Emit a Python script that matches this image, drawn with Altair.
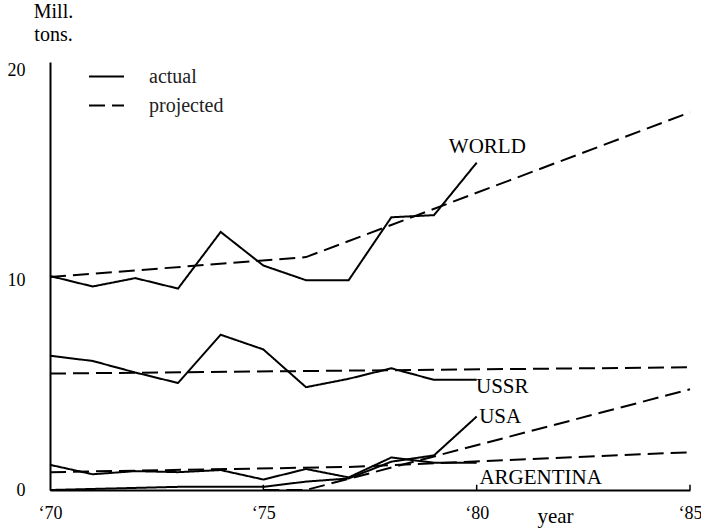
import altair as alt
import pandas as pd

# Actual production, million tons, 1970-1980
years = [1970, 1971, 1972, 1973, 1974, 1975, 1976, 1977, 1978, 1979, 1980]
world_actual = [10.2, 9.7, 10.1, 9.6, 12.3, 10.7, 10.0, 10.0, 13.0, 13.1, 15.6]
ussr_actual = [6.4, 6.15, 5.6, 5.1, 7.4, 6.7, 4.9, 5.3, 5.8, 5.25, 5.25]
usa_actual = [0.0, 0.05, 0.1, 0.15, 0.15, 0.15, 0.4, 0.55, 1.35, 1.65, 3.5]
argentina_actual = [1.2, 0.75, 0.9, 0.85, 0.95, 0.5, 1.0, 0.6, 1.55, 1.3, 1.3]

# Projected trends
world_proj_years = [1970, 1976, 1985]
world_proj = [10.15, 11.1, 18.0]
ussr_proj_years = [1970, 1985]
ussr_proj = [5.55, 5.85]
usa_proj_years = [1975, 1976, 1985]
usa_proj = [0.0, 0.0, 4.8]
argentina_proj_years = [1970, 1977, 1985]
argentina_proj = [0.85, 1.1, 1.8]

# Series names placed beside the lines
region_names = ["WORLD", "USSR", "USA", "ARGENTINA"]
name_year = [1980.25, 1980.6, 1980.55, 1981.5]
name_value = [16.35, 4.9, 3.5, 0.57]

# Year marks on the time axis
axis_years = [1970, 1975, 1980, 1985]
tick_years = [1975, 1980, 1985]

FONT = "Liberation Serif"

rows = []
for name, xs, ys, kind in [
    ("WORLD", years, world_actual, "actual"),
    ("USSR", years, ussr_actual, "actual"),
    ("USA", years, usa_actual, "actual"),
    ("ARGENTINA", years, argentina_actual, "actual"),
    ("WORLD", world_proj_years, world_proj, "projected"),
    ("USSR", ussr_proj_years, ussr_proj, "projected"),
    ("USA", usa_proj_years, usa_proj, "projected"),
    ("ARGENTINA", argentina_proj_years, argentina_proj, "projected"),
]:
    for x, y in zip(xs, ys):
        rows.append({"region": name, "kind": kind, "year": x, "value": y})
lines_df = pd.DataFrame(rows)

names_df = pd.DataFrame({"name": region_names, "year": name_year, "value": name_value})
ticks_df = pd.DataFrame({"year": tick_years, "y0": [0.0] * 3, "y1": [0.25] * 3})

x_scale = alt.Scale(domain=[1970, 1985], nice=False, zero=False)
y_scale = alt.Scale(domain=[0, 20.4], nice=False)

lines = alt.Chart(lines_df).mark_line(color="black", strokeWidth=2).encode(
    x=alt.X(
        "year:Q",
        scale=x_scale,
        axis=alt.Axis(
            values=axis_years,
            labelExpr="'\u2018' + substring(toString(datum.value), 2)",
            title="year",
            titleX=505,
            titleY=26,
            titleBaseline="middle",
            titleFont=FONT,
            titleFontSize=21,
            titleFontWeight="normal",
            titleColor="black",
            labelFont=FONT,
            labelFontSize=18,
            labelColor="black",
            labelPadding=14,
            labelFlush=False,
            ticks=False,
            grid=False,
            domainColor="black",
            domainWidth=2,
        ),
    ),
    y=alt.Y(
        "value:Q",
        scale=y_scale,
        axis=alt.Axis(
            values=[0, 10, 20],
            title=["Mill.", "tons."],
            titleAngle=0,
            titleAlign="center",
            titleBaseline="top",
            titleX=3,
            titleY=-61,
            titleFont=FONT,
            titleFontSize=20,
            titleFontWeight="normal",
            titleLineHeight=23,
            titleColor="black",
            labelFont=FONT,
            labelFontSize=18,
            labelColor="black",
            labelPadding=25,
            ticks=False,
            grid=False,
            domainColor="black",
            domainWidth=2,
        ),
    ),
    detail="region:N",
    strokeDash=alt.StrokeDash(
        "kind:N",
        scale=alt.Scale(domain=["actual", "projected"], range=[[1, 0], [16, 7]]),
        legend=alt.Legend(
            orient="none",
            legendX=38,
            legendY=-4,
            title=None,
            symbolType="stroke",
            symbolSize=1225,
            symbolStrokeWidth=2,
            symbolStrokeColor="black",
            labelFont=FONT,
            labelFontSize=20,
            labelColor="#222222",
            labelOffset=24,
            rowPadding=-6,
        ),
    ),
    order="year:Q",
)

ticks = alt.Chart(ticks_df).mark_rule(color="black", strokeWidth=1.5).encode(
    x="year:Q", y="y0:Q", y2="y1:Q"
)

names = alt.Chart(names_df).mark_text(
    font=FONT, fontSize=21, color="black", align="center", baseline="middle"
).encode(x="year:Q", y="value:Q", text="name:N")

chart = (
    alt.layer(lines, ticks, names)
    .properties(
        width=640,
        height=428,
        autosize=alt.AutoSizeParams(type="none"),
        padding={"left": 50, "top": 62, "right": 11, "bottom": 39},
        background="white",
    )
    .configure_view(stroke=None)
)

chart.save("out.html", embed_options={"renderer": "svg", "actions": False})
